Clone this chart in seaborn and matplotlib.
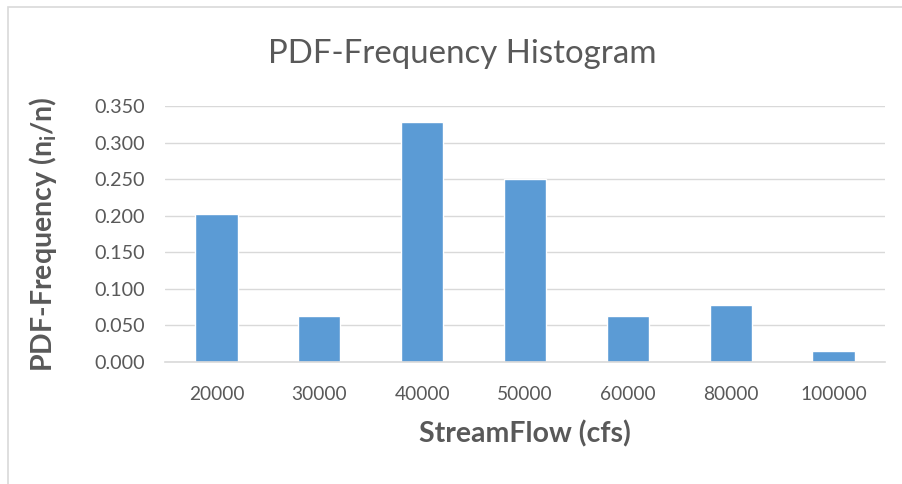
import matplotlib
matplotlib.use("Agg")
import matplotlib.pyplot as plt
import seaborn as sns
import pandas as pd
from matplotlib.patches import Rectangle

categories = ["20000", "30000", "40000", "50000", "60000", "80000", "100000"]
values = [0.203, 0.0625, 0.328, 0.250, 0.0625, 0.078, 0.0156]
yticks = [0.0, 0.05, 0.10, 0.15, 0.20, 0.25, 0.30, 0.35]

sns.set_theme(style="white")
plt.rcParams['font.family'] = ['Lato', 'DejaVu Sans']
plt.rcParams['mathtext.fontset'] = 'custom'
plt.rcParams['mathtext.bf'] = 'Lato:bold'
plt.rcParams['mathtext.rm'] = 'Lato'

txt = '#595959'
df = pd.DataFrame({"flow": categories, "pdf": values})

fig = plt.figure(figsize=(9.02, 4.84), dpi=100)
ax = fig.add_axes([0.183, 0.252, 0.798, 0.529])
sns.barplot(data=df, x="flow", y="pdf", color="#5B9BD5", width=0.41,
            saturation=1, ax=ax, order=categories)

ax.set_ylim(0, 0.35)
ax.set_yticks(yticks)
ax.set_yticklabels([f"{t:.3f}" for t in yticks], fontsize=14.2, color=txt)
ax.set_xticks(range(len(categories)))
ax.set_xticklabels(categories, fontsize=13.8, color=txt)
ax.tick_params(axis='both', length=0)
ax.tick_params(axis='y', pad=14.5)
ax.tick_params(axis='x', pad=17)
ax.yaxis.grid(True, color='#D9D9D9', linewidth=1)
ax.set_axisbelow(True)
for s in ['top', 'right', 'left']:
    ax.spines[s].set_visible(False)
ax.spines['bottom'].set_color('#D9D9D9')
ax.spines['bottom'].set_linewidth(1.2)
ax.set_xlim(-0.5, len(categories) - 0.5)

ax.set_xlabel("StreamFlow (cfs)", fontsize=20.5, fontweight='bold', color=txt, labelpad=13)
ax.set_ylabel(r"PDF-Frequency (n$_\mathbf{i}$/n)", fontsize=20.5, fontweight='bold', color=txt)
ax.yaxis.set_label_coords(-0.148, 0.5)

fig.text(0.512, 0.888, "PDF-Frequency Histogram", fontsize=23.8, color=txt, ha='center', va='center')

fig.patches.append(Rectangle((8/902, -0.1), 1.2, 1 - 7/484 + 0.1, transform=fig.transFigure,
                             fill=False, edgecolor='#D9D9D9', linewidth=1.2))

fig.savefig("out.png", dpi=100)
